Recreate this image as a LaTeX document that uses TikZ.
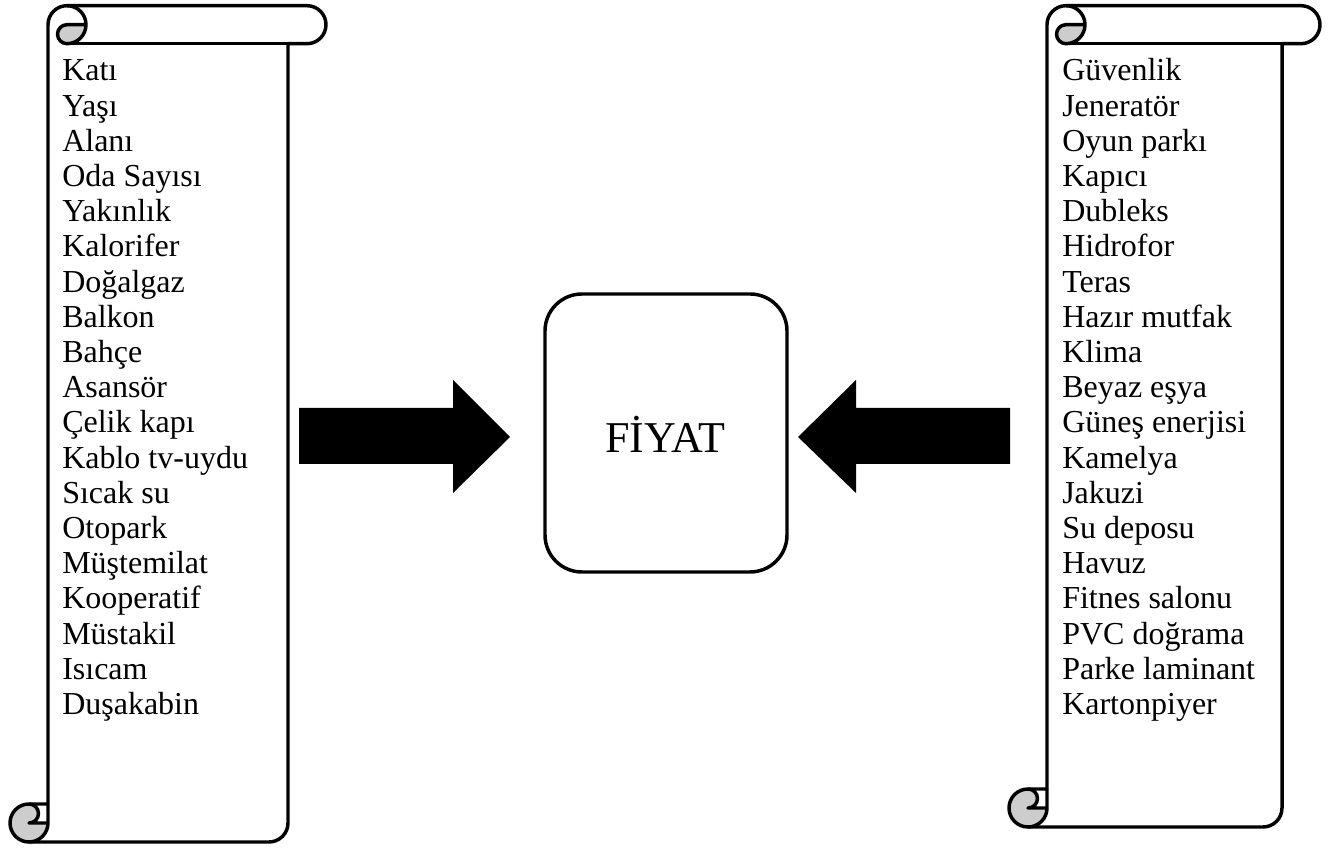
\documentclass[tikz,border=0pt]{standalone}
\usepackage{fontspec}
\setmainfont{Liberation Serif}
\definecolor{curlgray}{RGB}{205,205,205}
\tikzset{
  scrollline/.style={line width=2.6pt, line join=round},
  item/.style={anchor=base west, inner sep=0pt, font=\fontsize{24}{28}\selectfont},
  pricebox/.style={draw, line width=2.6pt, rounded corners=27.75pt, minimum width=181.5pt, minimum height=208.5pt, inner sep=0pt},
  pricetext/.style={anchor=base, inner sep=0pt, font=\fontsize{33}{38}\selectfont},
  blockarrow/.style={fill=black}
}
\newcommand\myscroll[4]{%
  \pgfmathsetmacro\xa{#1+19}%
  \pgfmathsetmacro\xb{#1+38}%
  \pgfmathsetmacro\xc{#1+57}%
  \pgfmathsetmacro\xd{#1+76}%
  \pgfmathsetmacro\xf{#3-38}%
  \pgfmathsetmacro\xg{#3-19}%
  \pgfmathsetmacro\yt{#2}%
  \pgfmathsetmacro\ytc{#2-19}%
  \pgfmathsetmacro\ytb{#2-38}%
  \pgfmathsetmacro\yb{#4}%
  \pgfmathsetmacro\ybc{#4+19}%
  \pgfmathsetmacro\ybt{#4+38}%
  \path[fill=white] (\xb,\ybt) -- (\xb,\ytc) arc[start angle=180,end angle=90,radius=14.25pt] -- (\xg,\yt) arc[start angle=90,end angle=-90,radius=14.25pt] -- (\xf,\ytb) -- (\xf,\ybc) arc[start angle=0,end angle=-90,radius=14.25pt] -- (\xa,\yb) arc[start angle=-90,end angle=-270,radius=14.25pt] -- cycle;
  \fill[curlgray] (\xd,\ytc) arc[start angle=0,end angle=-90,radius=14.25pt] arc[start angle=-90,end angle=-270,radius=7.125pt] -- cycle;
  \fill[curlgray] (\xa,\ybc) circle[radius=14.25pt];
  \fill[white] (\xa,\ybt) -- (\xb,\ybt) -- (\xb,\ybc) -- (\xa,\ybc) arc[start angle=-90,end angle=90,radius=7.125pt] -- cycle;
  \draw[scrollline] (\xb,\ybt) -- (\xb,\ytc) arc[start angle=180,end angle=90,radius=14.25pt] -- (\xg,\yt) arc[start angle=90,end angle=-90,radius=14.25pt] -- (\xf,\ytb) -- (\xf,\ybc) arc[start angle=0,end angle=-90,radius=14.25pt] -- (\xa,\yb) arc[start angle=-90,end angle=-270,radius=14.25pt] -- cycle;
  \draw[scrollline] (\xf,\ytb) -- (\xc,\ytb);
  \draw[scrollline] (\xc,\yt) arc[start angle=90,end angle=-90,radius=14.25pt] arc[start angle=-90,end angle=-270,radius=7.125pt] -- (\xd,\ytc);
  \draw[scrollline] (\xa,\ybt) arc[start angle=90,end angle=-90,radius=7.125pt] -- (\xb,\ybc);
  \draw[scrollline] (\xa,\yb) arc[start angle=-90,end angle=0,radius=14.25pt] -- (\xb,\ybt);
}
\begin{document}
\begin{tikzpicture}[x=0.75pt,y=0.75pt]
\useasboundingbox (0,0) rectangle (1331,848);
\myscroll{10}{842.3}{326}{6}
\myscroll{1009}{842.3}{1320}{21}
\foreach \t [count=\i] in {Katı,Yaşı,Alanı,Oda Sayısı,Yakınlık,Kalorifer,Doğalgaz,Balkon,Bahçe,Asansör,Çelik kapı,Kablo tv-uydu,Sıcak su,Otopark,Müştemilat,Kooperatif,Müstakil,Isıcam,Duşakabin}
  \node[item] (left\i) at (62,{767-(\i-1)*35.2}) {\t};
\foreach \t [count=\i] in {Güvenlik,Jeneratör,Oyun parkı,Kapıcı,Dubleks,Hidrofor,Teras,Hazır mutfak,Klima,Beyaz eşya,Güneş enerjisi,Kamelya,Jakuzi,Su deposu,Havuz,Fitnes salonu,PVC doğrama,Parke laminant,Kartonpiyer}
  \node[item] (right\i) at (1062,{767-(\i-1)*35.2}) {\t};
\node[pricebox] (price) at (666,415) {};
\node[pricetext] (pricelabel) at (665,395) {FİYAT};
\fill[blockarrow] (299,440) -- (453,440) -- (453,468) -- (510,411) -- (453,355) -- (453,384) -- (299,384) -- cycle;
\fill[blockarrow] (1010,440) -- (856,440) -- (856,468) -- (798,411) -- (856,355) -- (856,384) -- (1010,384) -- cycle;
\end{tikzpicture}
\end{document}
